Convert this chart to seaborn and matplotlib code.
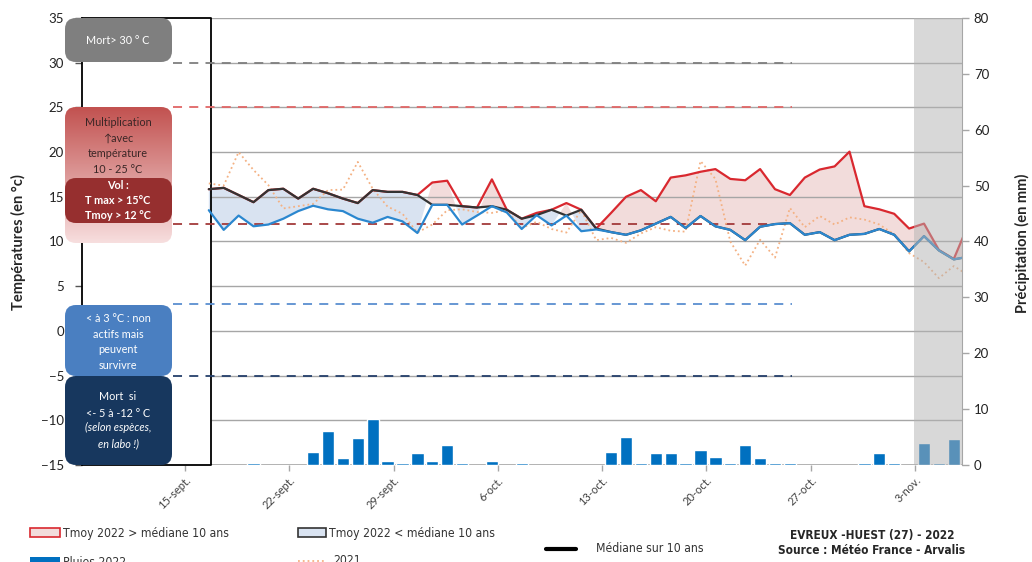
import os
import matplotlib
matplotlib.use("Agg")
import matplotlib.pyplot as plt
import numpy as np
import seaborn as sns
from matplotlib import font_manager
from matplotlib.font_manager import FontProperties
from matplotlib.patches import FancyBboxPatch, Rectangle

# day number counted from 1-sept (16 = 16-sept, 64 = 3-nov)
days = list(range(16, 68))
median_10y = [15.85, 16.0, 15.2, 14.4, 15.75, 15.9, 14.8, 15.9, 15.4, 14.8, 14.3, 15.75, 15.55,
              15.55, 15.2, 14.1, 14.1, 13.95, 13.8, 13.95, 13.55, 12.55, 12.95, 13.55, 12.9, 13.55,
              11.45, 11.05, 10.75, 11.25, 12.0, 12.75, 11.5, 12.85, 11.7, 11.3, 10.15, 11.65, 11.95,
              12.05, 10.75, 11.05, 10.15, 10.75, 10.85, 11.4, 10.75, 8.9, 10.6, 9.0, 8.0, 8.3]
tmoy_2022 = [13.5, 11.3, 12.9, 11.7, 11.9, 12.55, 13.4, 14.0, 13.6, 13.4, 12.55, 12.1, 12.75,
             12.25, 10.95, 16.6, 16.8, 11.9, 12.9, 16.95, 13.25, 11.4, 13.2, 11.8, 14.3, 11.15,
             11.35, 13.2, 15.0, 15.75, 14.5, 17.15, 17.4, 17.8, 18.1, 17.0, 16.85, 18.1, 15.85,
             15.2, 17.15, 18.05, 18.4, 20.05, 13.95, 13.6, 13.1, 11.45, 12.0, 9.05, 8.05, 12.0]
tmoy_2021 = [16.5, 16.25, 20.0, 18.0, 16.3, 13.7, 13.95, 14.2, 15.75, 15.8, 18.9, 15.9, 13.9,
             13.1, 11.0, 11.9, 13.5, 13.6, 13.3, 13.2, 13.5, 11.5, 12.2, 11.4, 11.0, 13.5,
             10.15, 10.4, 9.85, 10.9, 11.6, 11.2, 11.1, 19.0, 17.0, 10.0, 7.3, 10.2, 8.2,
             13.75, 11.6, 12.85, 11.9, 12.7, 12.45, 11.9, 10.8, 8.7, 7.7, 5.9, 7.25, 6.2]

rain_days = [19, 23, 24, 25, 26, 27, 28, 29, 30, 31, 32, 33, 35, 37,
             43, 44, 45, 46, 47, 48, 49, 50, 51, 52, 53, 54, 55, 60, 61, 62, 64, 65, 66]
rain_mm = [0.4, 2.4, 6.0, 1.2, 4.9, 8.3, 0.7, 0.4, 2.1, 0.7, 3.5, 0.4, 0.7, 0.4,
           2.4, 5.1, 0.4, 2.1, 2.1, 0.4, 2.6, 1.5, 0.4, 3.5, 1.2, 0.4, 0.4, 0.4, 2.1, 0.4,
           4.0, 0.4, 4.6]

tick_days = [15, 22, 29, 36, 43, 50, 57, 64]
tick_labels = ["15-sept.", "22-sept.", "29-sept.", "6-oct.", "13-oct.", "20-oct.", "27-oct.", "3-nov."]

sns.set_style("white")
plt.rcParams["font.family"] = ["Lato", "DejaVu Sans"]


def find_font(files):
    found = {os.path.basename(f.fname): f.fname for f in font_manager.fontManager.ttflist}
    for name in files:
        if name in found:
            return found[name], name
    return None, None


reg_file, reg_name = find_font(["LiberationSansNarrow-Regular.ttf", "DejaVuSansCondensed.ttf"])
bold_file, _ = find_font(["LiberationSansNarrow-Bold.ttf", "DejaVuSansCondensed-Bold.ttf"])
if reg_file:
    leg_font = FontProperties(fname=reg_file)
    leg_size = 9.2 if "Liberation" in reg_name else 8.7
else:
    leg_font = FontProperties(family="DejaVu Sans")
    leg_size = 7.8
bold_font = FontProperties(fname=bold_file) if bold_file else FontProperties(family="DejaVu Sans", weight="bold")

W, H = 1032, 562
x_off = 0.6
xmin, xmax = 8.09, 67.15
start = 16.75

x = np.array(days) + x_off
M = np.array(median_10y)
T = np.array(tmoy_2022)
upper = np.maximum(T, M)
lower = np.minimum(T, M)

fig = plt.figure(figsize=(W / 100, H / 100), dpi=100)
ax = fig.add_axes([82 / W, 1 - 465 / H, (962 - 82) / W, (465 - 18) / H])
ax2 = ax.twinx()

grid_c = "#a6a6a6"
ax.hlines(np.arange(-10, 40, 5), start, xmax, color=grid_c, lw=1, zorder=2)
ax.hlines(-15, start, xmax, color=grid_c, lw=1.2, zorder=2)
ax.plot([xmin, start], [35, 35], color="k", lw=1.3, clip_on=False, zorder=3)
ax.plot([xmin, start], [-15, -15], color="k", lw=1.3, clip_on=False, zorder=3)
ax.axvline(start, color="k", lw=1.3, zorder=3)

ax.fill_between(x, T, M, where=T >= M, interpolate=True, color="#f2dcdb", lw=0, zorder=1)
ax.fill_between(x, T, M, where=T <= M, interpolate=True, color="#d9e3f1", lw=0, zorder=1)

# threshold lines
x_end = 55.74
for y, c in [(30, "#7f7f7f"), (25, "#e06666"), (12, "#a33a3a"), (3, "#5b8fd0"), (-5, "#25406b")]:
    ax.hlines(y, 14.2, x_end, color=c, lw=1.3, linestyles=(0, (5, 4)), zorder=3)

sns.lineplot(x=x, y=tmoy_2021, ax=ax, color="#f4b183", lw=1.3, linestyle=":", sort=False,
             estimator=None, zorder=3)
sns.lineplot(x=x, y=upper, ax=ax, color="#d9282f", lw=1.6, sort=False, estimator=None, zorder=4)
sns.lineplot(x=x, y=M, ax=ax, color="#333333", lw=1.6, sort=False, estimator=None, zorder=5)
sns.lineplot(x=x, y=lower, ax=ax, color="#2b87cf", lw=1.6, sort=False, estimator=None, zorder=6)

sns.barplot(x=np.array(rain_days) + x_off, y=rain_mm, ax=ax2, native_scale=True, orient="x",
            color="#0070c0", saturation=1, width=0.82, errorbar=None, zorder=2)
ax2.axvspan(63.95, xmax, color="#b3b3b3", alpha=0.5, lw=0, zorder=6)

ax.set_xlim(xmin, xmax)
ax.set_ylim(-15, 35)
ax2.set_ylim(0, 80)
ax2.set_xlim(xmin, xmax)
ax.set_yticks(np.arange(-15, 40, 5))
ax2.set_yticks(np.arange(0, 90, 10))
ax.set_xticks(tick_days)
ax.set_xticklabels(tick_labels, rotation=45, ha="right", rotation_mode="anchor", fontsize=8,
                   color="#404040")
ax.tick_params(axis="x", length=4, width=1, color=grid_c, direction="out", pad=3, bottom=True)
ax.tick_params(axis="y", length=5, width=1, color="#555555", direction="out", labelsize=9.5,
               left=True, labelcolor="#222222", pad=8)
ax2.tick_params(axis="y", length=5, width=1, color=grid_c, direction="out", labelsize=9.5,
                right=True, labelcolor="#222222")
ax.set_xlabel("")
ax.set_ylabel("")
ax2.set_xlabel("")
ax2.set_ylabel("")
for s in ["top", "bottom", "right"]:
    ax.spines[s].set_visible(False)
ax.spines["left"].set_color("k")
ax.spines["left"].set_linewidth(1.3)
for s in ["top", "bottom", "left"]:
    ax2.spines[s].set_visible(False)
ax2.spines["right"].set_color(grid_c)

fig.text(18 / W, 1 - 242 / H, "Températures (en °c)", rotation=90, ha="center", va="center",
         fontsize=10.5, fontweight="bold")
fig.text(1022 / W, 1 - 243 / H, "Précipitation (en mm)", rotation=90, ha="center", va="center",
         fontsize=10.5, fontweight="bold")

# overlay in pixel coordinates for the boxes and the legend
ov = fig.add_axes([0, 0, 1, 1], zorder=10)
ov.set_xlim(0, W)
ov.set_ylim(H, 0)
ov.axis("off")
ov.patch.set_alpha(0)


def box(x0, y0, x1, y1, color, r=11):
    p = FancyBboxPatch((x0, y0), x1 - x0, y1 - y0, boxstyle=f"round,pad=0,rounding_size={r}",
                       fc=color, ec="none", zorder=2)
    ov.add_patch(p)
    return p


fs_box = 7.8
box(65, 18, 172, 62, "#7f7f7f")
ov.text(118, 40, "Mort> 30 ° C", color="white", fontsize=fs_box, ha="center", va="center", zorder=5)

grad_patch = box(65, 107, 172, 243, "none")
top_c = np.array([194, 82, 80]) / 255
bot_c = np.array([247, 222, 222]) / 255
t = np.linspace(0, 1, 100)[:, None]
grad = (top_c * (1 - t) + bot_c * t)[:, None, :]
im = ov.imshow(grad, extent=[65, 172, 243, 107], aspect="auto", zorder=2)
im.set_clip_path(grad_patch)
ov.set_xlim(0, W)
ov.set_ylim(H, 0)
ov.text(118, 146, "Multiplication\n↑avec\ntempérature\n10 - 25 °C", color="#3a2626",
        fontsize=fs_box, ha="center", va="center", linespacing=1.55, zorder=5)

box(65, 178, 172, 223, "#962f2f")
ov.text(118, 200.5, "Vol :\nT max > 15°C\nTmoy > 12 °C", color="white", fontsize=fs_box,
        fontweight="bold", ha="center", va="center", linespacing=1.45, zorder=5)

box(65, 305, 172, 376, "#4a7fc1")
ov.text(118, 342, "< à 3 °C : non\nactifs mais\npeuvent\nsurvivre", color="white", fontsize=fs_box,
        ha="center", va="center", linespacing=1.55, zorder=5)

box(65, 376, 172, 465, "#17375e")
ov.text(118, 405, "Mort  si\n<- 5 à -12 ° C", color="white", fontsize=fs_box, ha="center",
        va="center", linespacing=1.6, zorder=5)
ov.text(118, 436, "(selon espèces,\nen labo !)", color="white", fontsize=fs_box, ha="center",
        va="center", linespacing=1.6, style="italic", zorder=5)

# legend
ov.add_patch(Rectangle((30, 528), 30, 9, fc="#f2dcdb", ec="#d9282f", lw=1.2))
ov.text(63, 533, "Tmoy 2022 > médiane 10 ans", fontproperties=leg_font, fontsize=leg_size,
        va="center", color="#333333")
ov.add_patch(Rectangle((298, 528), 28, 9, fc="#d9e3f1", ec="#333333", lw=1.2))
ov.text(329, 533, "Tmoy 2022 < médiane 10 ans", fontproperties=leg_font, fontsize=leg_size,
        va="center", color="#333333")
ov.plot([546, 576], [549, 549], color="k", lw=3)
ov.text(596, 549, "Médiane sur 10 ans", fontproperties=leg_font, fontsize=leg_size,
        va="center", color="#333333")
ov.add_patch(Rectangle((30, 557), 30, 10, fc="#0070c0", ec="none"))
ov.text(63, 562, "Pluies 2022", fontproperties=leg_font, fontsize=leg_size, va="center",
        color="#333333")
ov.plot([298, 326], [561, 561], color="#f4b183", lw=1.3, linestyle=":")
ov.text(333, 561, "2021", fontproperties=leg_font, fontsize=leg_size, va="center",
        color="#333333")
ov.text(872, 536, "EVREUX -HUEST (27) - 2022", fontproperties=bold_font, fontsize=leg_size - 0.2,
        ha="center", va="center")
ov.text(872, 550, "Source : Météo France - Arvalis", fontproperties=bold_font,
        fontsize=leg_size - 0.2, ha="center", va="center")

fig.savefig("out.png", dpi=100)
